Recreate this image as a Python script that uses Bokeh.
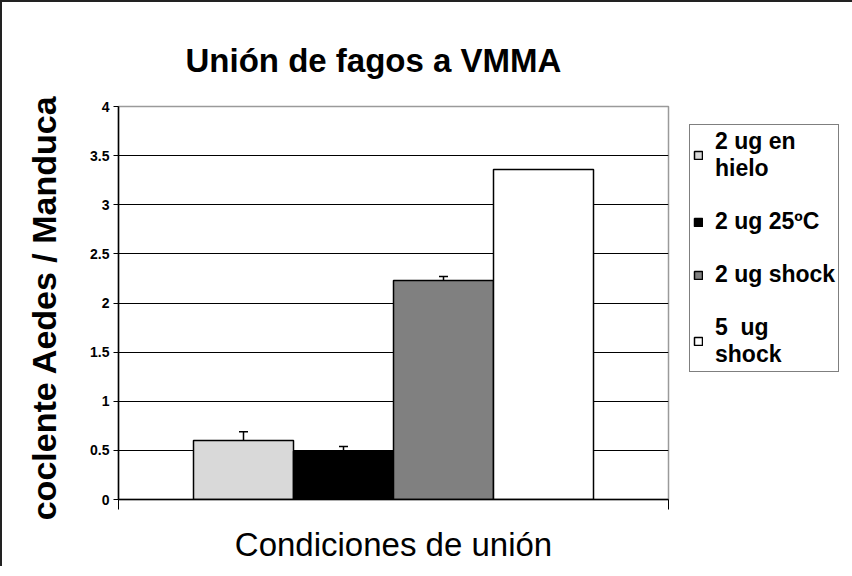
from bokeh.plotting import figure
from bokeh.models import (ColumnDataSource, Whisker, FixedTicker, Legend, LegendItem,
                          Range1d, TeeHead)
from bokeh.embed import file_html
from bokeh.resources import INLINE

# ---- data ----
title_text = "Unión de fagos a VMMA"
series = ["2 ug en\nhielo", "2 ug 25ºC", "2 ug shock", "5  ug\nshock"]
values = [0.60, 0.49, 2.23, 3.36]
errors = [0.09, 0.05, 0.04, 0.0]
colors = ["#d9d9d9", "#000000", "#808080", "#ffffff"]
y_ticks = [0, 0.5, 1, 1.5, 2, 2.5, 3, 3.5, 4]
y_tick_labels = ["0", "0.5", "1", "1.5", "2", "2.5", "3", "3.5", "4"]
x_label = "Condiciones de unión"
y_label = "coclente  Aedes / Manduca"

FONT = "Liberation Sans"

# single category slot: gap of 0.75 bar widths on both sides
gap = 0.75
xs = [gap + 0.5 + i for i in range(len(series))]
x_end = gap * 2 + len(series)

src = ColumnDataSource(dict(x=xs, top=values, color=colors, label=series))
err_x = [x for x, e in zip(xs, errors) if e > 0]
err_v = [v for v, e in zip(values, errors) if e > 0]
err_e = [e for e in errors if e > 0]
esrc = ColumnDataSource(dict(x=err_x,
                             upper=[v + e for v, e in zip(err_v, err_e)],
                             lower=[v - e for v, e in zip(err_v, err_e)]))

p = figure(frame_width=550, frame_height=393, output_backend="svg",
           toolbar_location=None,
           x_range=Range1d(0, x_end), y_range=Range1d(0, 4),
           min_border_left=116, min_border_right=0, min_border_top=104,
           min_border_bottom=67)
p.styles = {"border-left": "2px solid #222", "border-top": "2px solid #222"}

r = p.vbar(x="x", top="top", width=1.0, bottom=0, fill_color="color",
           line_color="#000000", line_width=1.5, source=src)

w = Whisker(base="x", upper="upper", lower="lower", source=esrc,
            line_color="#000000", line_width=1.5,
            upper_head=TeeHead(size=9, line_color="#000000", line_width=1.5),
            lower_head=TeeHead(size=9, line_color="#000000", line_width=1.5))
p.add_layout(w)

# title
p.title.text = title_text
p.title.text_font = FONT
p.title.text_font_size = "33px"
p.title.text_font_style = "bold"
p.title.text_color = "#000000"
p.title.align = "left"
p.title.offset = 67
p.title.standoff = 55

# outline (top/right of plot area)
p.outline_line_color = "#9a9a9a"
p.outline_line_width = 1.5

# grid
p.xgrid.visible = False
p.ygrid.ticker = FixedTicker(ticks=y_ticks[1:-1])
p.ygrid.grid_line_color = "#000000"
p.ygrid.grid_line_width = 1

# y axis
ya = p.yaxis[0]
ya.ticker = FixedTicker(ticks=y_ticks)
ya.major_label_overrides = {t: l for t, l in zip(y_ticks, y_tick_labels)}
ya.minor_tick_line_color = None
ya.major_tick_in = 0
ya.major_tick_out = 5
ya.axis_line_color = "#000000"
ya.axis_line_width = 1.5
ya.major_tick_line_color = "#000000"
ya.major_label_text_font = FONT
ya.major_label_text_font_style = "bold"
ya.major_label_text_font_size = "14px"
ya.major_label_text_color = "#000000"
ya.major_label_standoff = 4
ya.axis_label = y_label
ya.axis_label_text_font = FONT
ya.axis_label_text_font_style = "bold"
ya.axis_label_text_font_size = "34px"
ya.axis_label_text_color = "#000000"
ya.axis_label_standoff = 24

# x axis (ticks only at the category boundaries, no tick labels)
xa = p.xaxis[0]
xa.ticker = FixedTicker(ticks=[0, x_end])
xa.major_label_overrides = {0: "", x_end: ""}
xa.major_label_text_font_size = "10px"
xa.minor_tick_line_color = None
xa.major_tick_in = 0
xa.major_tick_out = 10
xa.axis_line_color = "#000000"
xa.axis_line_width = 1.5
xa.major_tick_line_color = "#000000"
xa.axis_label = x_label
xa.axis_label_text_font = FONT
xa.axis_label_text_font_style = "normal"
xa.axis_label_text_font_size = "33px"
xa.axis_label_text_color = "#000000"
xa.axis_label_standoff = 16

# legend
items = [LegendItem(label=s, renderers=[r], index=i) for i, s in enumerate(series)]
legend = Legend(items=items, location=(21, 127))
legend.label_text_font = FONT
legend.label_text_font_style = "bold"
legend.label_text_font_size = "23px"
legend.label_text_color = "#000000"
legend.label_text_line_height = 1.15
legend.glyph_width = 10
legend.glyph_height = 10
legend.label_standoff = 12
legend.spacing = 26
legend.padding = 3
legend.margin = 0
legend.border_line_color = "#000000"
legend.border_line_width = 1
legend.background_fill_color = "#ffffff"
legend.background_fill_alpha = 1
p.add_layout(legend, "right")

open("out.html", "w").write(file_html(p, INLINE))
